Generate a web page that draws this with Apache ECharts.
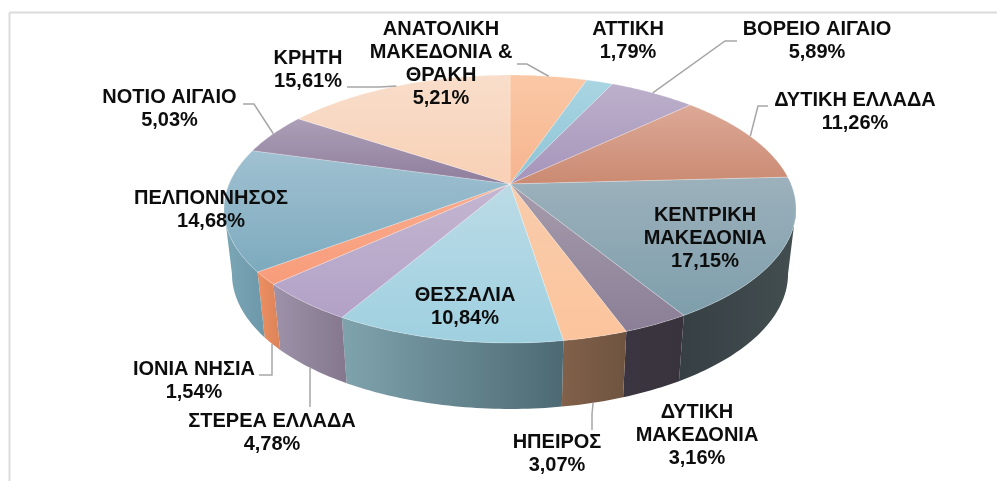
<!DOCTYPE html>
<html><head><meta charset="utf-8">
<style>html,body{margin:0;padding:0;background:#fff}#c{width:997px;height:481px}</style>
<script src="https://cdn.jsdelivr.net/npm/echarts@6/dist/echarts.min.js"></script>
</head><body><div id="c"></div>
<script>
// ---- data (clockwise from 12 o'clock) ----
const categories = ['ΑΝΑΤΟΛΙΚΗ\nΜΑΚΕΔΟΝΙΑ &\nΘΡΑΚΗ','ΑΤΤΙΚΗ','ΒΟΡΕΙΟ ΑΙΓΑΙΟ','ΔΥΤΙΚΗ ΕΛΛΑΔΑ','ΚΕΝΤΡΙΚΗ\nΜΑΚΕΔΟΝΙΑ','ΔΥΤΙΚΗ\nΜΑΚΕΔΟΝΙΑ','ΗΠΕΙΡΟΣ','ΘΕΣΣΑΛΙΑ','ΣΤΕΡΕΑ ΕΛΛΑΔΑ','ΙΟΝΙΑ ΝΗΣΙΑ','ΠΕΛΠΟΝΝΗΣΟΣ','ΝΟΤΙΟ ΑΙΓΑΙΟ','ΚΡΗΤΗ'];
const values = [5.21,1.79,5.89,11.26,17.15,3.16,3.07,10.84,4.78,1.54,14.68,5.03,15.61];

// ---- styles ----
const topColors = [['#FAC8A6','#F6B48E'],['#AAD5E2','#8CC3D5'],['#BCB0CB','#A694BA'],['#DCA997','#CB8A72'],['#9CB1BC','#7E9EAB'],['#A69CAC','#8A7F96'],['#F8CCAC','#FCC49C'],['#BBDBE6','#9FD0E0'],['#C4B6D1','#B2A1C6'],['#F8AC8E','#F89C7A'],['#A0C1D1','#7DAABE'],['#AC9FB7','#8F7D9C'],['#F8DECB','#F8D0B5']];
const wallColors = [['#C89070','#B88060'],['#70A0B0','#60909F'],['#8A7C9A','#7A6C8A'],['#A06A58','#905C4A'],['#364044','#434E51'],['#3A3540','#38333C'],['#826049','#6E5440'],['#7FA3AD','#4D6A74'],['#9D92A9','#84778E'],['#EE9064','#DB8357'],['#7BA6B6','#6C98A9'],['#7A6C86','#6C5E78'],['#B09A86','#A08A76']];
const leaderColor = '#A6A6A6', frameColor = '#DCDCDC', textColor = '#0D0D0D';

// ---- layout ----
const APEX = [510, 184], RX = 281, RY = 129.3, K = 0.1866;   // perspective of the top disc
const BOTTOM = {sx: 0.972, sy: 1.0075, dy: 64.8};            // lower disc relative to top disc
const labelX = [441,628,817,855,705,697,557,465,272,194,211,169.5,308];
const labelY = [29.5,29.5,29.5,100.5,215.5,412.5,442.5,295.5,421.5,369,198.5,97.5,58.5];      // centre of first line
const LINE_H = 23;
// elbow points of leader lines; `rim` says which disc edge the line touches
const leaders = {
  0:{rim:'top',path:[[517,64],[527,64]]},
  2:{rim:'top',path:[[737,41],[725,41]]},
  3:{rim:'top',path:[[768,106],[758,106]]},
  6:{rim:'bottom',path:[[592,430],[592,414]]},
  8:{rim:'bottom',path:[[310,407],[310,390]]},
  9:{rim:'bottom',path:[[259,375],[272,375]]},
  11:{rim:'top',path:[[243,104],[254,104]]},
  12:{rim:'top',path:[[347,87],[380,87]]}
};

// ---- projection ----
function topPt(f){ const a=f*2*Math.PI,u=Math.sin(a),v=-Math.cos(a),d=1-K*v; return [RX*u/d,RY*v/d]; }
function abs(p){ return [APEX[0]+p[0],APEX[1]+p[1]]; }
function rimTop(f){ return abs(topPt(f)); }
function rimBot(f){ const p=topPt(f); return abs([p[0]*BOTTOM.sx,p[1]*BOTTOM.sy+BOTTOM.dy]); }
function arc(fn,a,b){ const n=Math.max(2,Math.ceil((b-a)*360)); const r=[]; for(let i=0;i<=n;i++) r.push(fn(a+(b-a)*i/n)); return r; }
// the wall is only visible between the two points where the rim is widest
const FRONT_START = Math.acos(-K)/(2*Math.PI), FRONT_END = 1-FRONT_START;

const total = values.reduce((s,v)=>s+v,0);
let acc = 0;
const rows = values.map((v,i)=>{ const s=acc/total; acc+=v; return [i,s,acc/total,v]; });
const grad = (dirX,c)=>new echarts.graphic.LinearGradient(0,0,dirX?1:0,dirX?0:1,[{offset:0,color:c[0]},{offset:1,color:c[1]}]);
const fmt = v=>v.toFixed(2).replace('.',',')+'%';

const option = {
  backgroundColor:'#fff', animation:false,
  graphic:[
    {type:'line',silent:true,shape:{x1:9.5,y1:12.5,x2:997,y2:12.5},style:{stroke:frameColor,lineWidth:2}},
    {type:'line',silent:true,shape:{x1:9.5,y1:12.5,x2:9.5,y2:481},style:{stroke:frameColor,lineWidth:2}}
  ],
  series:[
    {type:'custom',name:'walls',coordinateSystem:'none',silent:true,z:1,data:rows,
     renderItem(p,api){ const i=api.value(0),a=Math.max(api.value(1),FRONT_START),b=Math.min(api.value(2),FRONT_END);
       if(b<=a) return {type:'group',children:[]};
       const pts=arc(rimTop,a,b).concat(arc(rimBot,a,b).reverse());
       return {type:'polygon',shape:{points:pts},style:{fill:grad(true,wallColors[i]),stroke:null}}; }},
    {type:'custom',name:'tops',coordinateSystem:'none',silent:true,z:2,data:rows,
     renderItem(p,api){ const i=api.value(0),a=api.value(1),b=api.value(2);
       const pts=[APEX.slice()].concat(arc(rimTop,a,b));
       return {type:'polygon',shape:{points:pts},style:{fill:grad(false,topColors[i]),stroke:'rgba(255,255,255,0.3)',lineWidth:0.8}}; }},
    {type:'custom',name:'leaders',coordinateSystem:'none',silent:true,z:3,data:rows,
     renderItem(p,api){ const i=api.value(0),a=api.value(1),b=api.value(2),l=leaders[i];
       if(!l) return {type:'group',children:[]};
       const m=(a+b)/2,anchor=l.rim==='top'?rimTop(m):rimBot(m);
       return {type:'polyline',shape:{points:l.path.concat([anchor])},style:{stroke:leaderColor,lineWidth:1.5,fill:null}}; }},
    {type:'custom',name:'labels',coordinateSystem:'none',silent:true,z:4,data:rows,
     renderItem(p,api){ const i=api.value(0),v=api.value(3);
       return {type:'text',style:{text:categories[i]+'\n'+fmt(v),x:labelX[i],y:labelY[i]-LINE_H/2,align:'center',verticalAlign:'top',
         font:'bold 20px "Liberation Sans", Arial, sans-serif',lineHeight:LINE_H,fill:textColor}}; }}
  ]
};
const chart = echarts.init(document.getElementById('c'),null,{renderer:'canvas'});
chart.setOption(option);
</script></body></html>
